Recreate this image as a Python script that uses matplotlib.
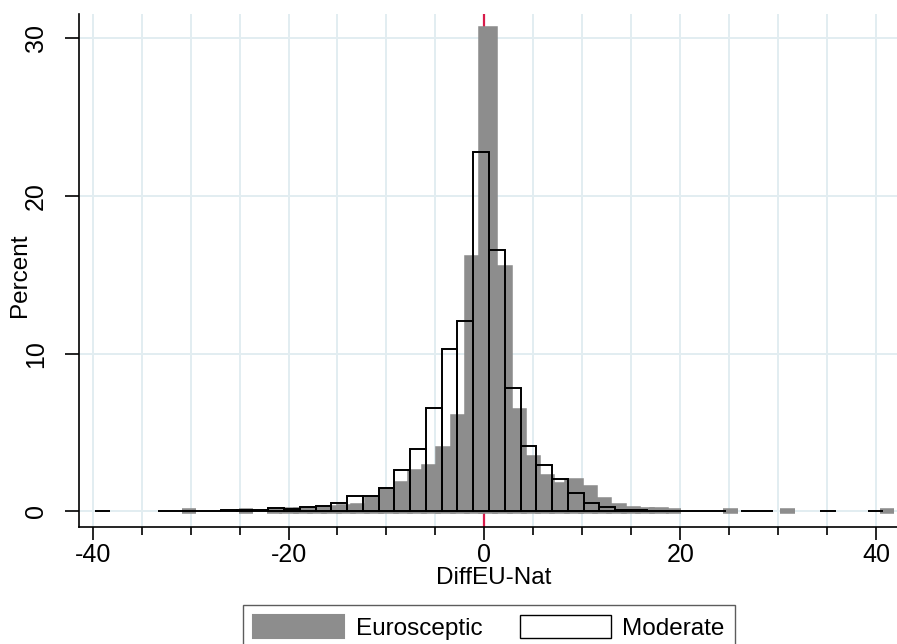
import matplotlib

matplotlib.use("Agg")

import matplotlib.pyplot as plt
import numpy as np
from matplotlib.patches import Patch
from matplotlib.ticker import MultipleLocator

plt.rcParams["font.family"] = ["Liberation Sans", "DejaVu Sans"]
plt.rcParams["axes.unicode_minus"] = False

# Eurosceptic: 50 equal-width bins (percent per bin)
EURO_START = -30.885
EURO_WIDTH = 1.455
euro_pct = [
    0.02, 0, 0, 0, 0.02, 0, 0.05, 0.08, 0.10, 0.15,
    0.20, 0.28, 0.36, 0.78, 1.38, 1.73, 2.47, 2.79, 3.95, 5.96,
    16.03, 30.55, 15.40, 6.38, 3.36, 2.15, 1.67, 1.94, 1.46, 0.74,
    0.32, 0.15, 0.10, 0.07, 0.05, 0, 0, 0, 0.02, 0,
    0, 0, 0.02, 0, 0, 0, 0, 0, 0, 0.02,
]

# Moderate: 50 equal-width bins (percent per bin)
MOD_START = -39.80
MOD_WIDTH = 1.611
mod_pct = [
    0.02, 0, 0, 0, 0.03, 0.03, 0.05, 0.05, 0.06, 0.06,
    0.12, 0.20, 0.13, 0.25, 0.33, 0.52, 0.98, 0.98, 1.50, 2.62,
    3.93, 6.57, 10.30, 12.05, 22.80, 16.55, 7.82, 4.13, 2.92, 2.05,
    1.16, 0.55, 0.26, 0.12, 0.07, 0.05, 0.04, 0.03, 0.02, 0.02,
    0, 0.02, 0.02, 0, 0, 0, 0.02, 0, 0, 0.02,
]

x_major = [-40, -20, 0, 20, 40]
y_major = [0, 10, 20, 30]

GREY = "#8d8d8d"
GRID = "#e2edf1"
RED = "#d81b4a"
FS = 17.5
TICK_FS = 18

W, H = 897, 644
fig = plt.figure(figsize=(W / 100, H / 100), dpi=100)
ax = fig.add_axes([78.5 / W, 1 - 526.7 / H, 1 - 78.5 / W, (526.7 - 14.4) / H])


def draw_hist(start, width, pct, **style):
    heights = np.asarray(pct, dtype=float)
    lefts = start + width * np.arange(len(heights))
    keep = heights > 0
    ax.bar(lefts[keep], heights[keep], width=width, align="edge", **style)


draw_hist(EURO_START, EURO_WIDTH, euro_pct,
          color=GREY, edgecolor=GREY, linewidth=4.0, zorder=2)
draw_hist(MOD_START, MOD_WIDTH, mod_pct,
          facecolor="none", edgecolor="black", linewidth=1.4, zorder=3)
ax.axvline(0, color=RED, linewidth=1.6, zorder=1.5)

ax.set_xlim(-41.45, 42.14)
ax.set_ylim(-0.97, 31.5)
ax.set_xticks(x_major)
ax.xaxis.set_minor_locator(MultipleLocator(5))
ax.set_yticks(y_major)

ax.set_axisbelow(True)
ax.grid(True, axis="x", which="both", color=GRID, linewidth=1.4)
ax.grid(True, axis="y", which="major", color=GRID, linewidth=1.4)

for side in ("top", "right"):
    ax.spines[side].set_visible(False)
for side in ("left", "bottom"):
    ax.spines[side].set_linewidth(1.2)

ax.tick_params(axis="x", which="major", length=9, width=1.2,
               labelsize=TICK_FS, pad=3)
ax.tick_params(axis="x", which="minor", length=5.5, width=1.2)
ax.tick_params(axis="y", length=10, width=1.2, labelsize=TICK_FS, pad=12,
               labelrotation=90)
for lbl in ax.get_yticklabels():
    lbl.set_va("center")

ax.set_xlabel("DiffEU-Nat", fontsize=FS, va="baseline")
ax.xaxis.set_label_coords(0.507, (526.7 - 584.3) / 512.3)
ax.set_ylabel("Percent", fontsize=FS, va="center")
ax.yaxis.set_label_coords((20 - 78.5) / 818.5, 0.49)

handles = [
    Patch(facecolor=GREY, edgecolor=GREY, linewidth=1.5, label="Eurosceptic"),
    Patch(facecolor="white", edgecolor="black", linewidth=1.0, label="Moderate"),
]
leg = fig.legend(handles=handles, loc="upper left",
                 bbox_to_anchor=(243.3 / W, 1 - 605 / H), ncol=2, fontsize=FS,
                 frameon=True, fancybox=False, edgecolor="#333333",
                 handlelength=3.75, handleheight=1.1, handletextpad=0.47,
                 columnspacing=1.55, borderpad=0.4, borderaxespad=0)
leg.get_frame().set_linewidth(1.0)

fig.savefig("out.png", dpi=100)
